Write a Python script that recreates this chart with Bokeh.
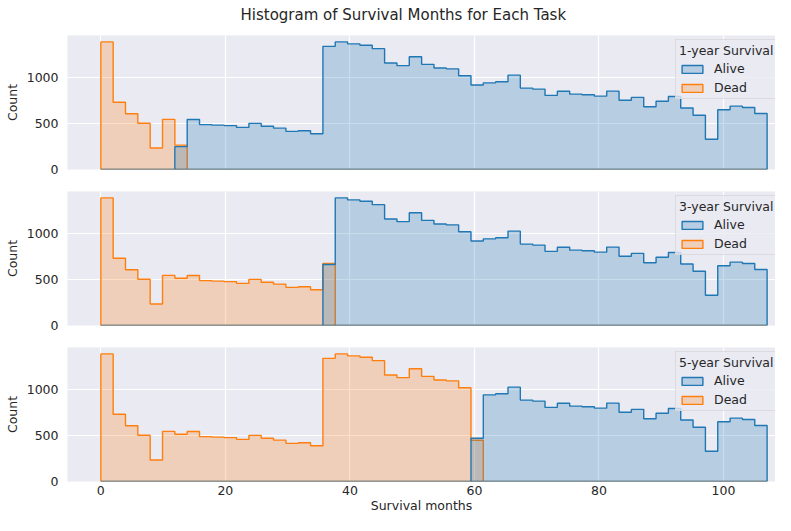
import numpy as np
from bokeh.plotting import figure
from bokeh.layouts import column
from bokeh.models import Range1d, Legend, LegendItem
from bokeh.core.properties import value
from bokeh.embed import file_html
from bokeh.resources import INLINE

# ---------------- data ----------------
chart_title = "Histogram of Survival Months for Each Task"
tasks = ["1-year Survival", "3-year Survival", "5-year Survival"]
hue_levels = ["Alive", "Dead"]
month_min = 0.0
month_max = 107.0
n_bins = 54
# total patients per bin (all tasks share the same survival months)
bin_counts = [1392, 734, 608, 505, 235, 547, 516, 546, 490, 484,
              479, 459, 503, 471, 451, 416, 423, 390, 1343, 1392,
              1370, 1356, 1318, 1162, 1133, 1230, 1147, 1107, 1098, 1022,
              922, 945, 957, 1029, 888, 877, 808, 853, 822, 815,
              800, 855, 756, 787, 684, 745, 797, 671, 592, 330,
              651, 691, 676, 611]
# bin containing the task threshold, and how many of it are "Dead"
split_bin = [6, 18, 30]
split_dead = [266, 678, 450]
x_ticks = [0, 20, 40, 60, 80, 100]
y_ticks = [0, 500, 1000]
x_label = "Survival months"
y_label = "Count"

# ---------------- style ----------------
COLORS = {"Alive": "#1f77b4", "Dead": "#ff7f0e"}
BG = "#EAEAF2"
TXT = "#262626"
FONT = "DejaVu Sans"
FS = "12.5px"

edges = np.linspace(month_min, month_max, n_bins + 1)
totals = np.array(bin_counts, dtype=float)
pad = 0.05 * (month_max - month_min)
ymax = totals.max() * 1.05

W = 775
LEFT = 67
FRAME_H = 134
TITLE_H = 35
frame_w = W - LEFT
px_per_unit = 6.227
x_end = -pad + frame_w / px_per_unit
LEG_W = 100
LEG_H = 58


def hue_counts(k):
    dead = totals.copy()
    dead[split_bin[k] + 1:] = 0
    dead[split_bin[k]] = split_dead[k]
    alive = totals - dead
    return {"Alive": alive, "Dead": dead}


def step_poly(counts):
    xs = np.repeat(edges, 2)
    ys = np.concatenate([[0.0], np.repeat(counts, 2), [0.0]])
    return xs, ys


def make_panel(k, top, bottom, show_x):
    p = figure(width=W, height=top + FRAME_H + bottom, output_backend="svg",
               toolbar_location=None,
               x_range=Range1d(-pad, x_end), y_range=Range1d(0, ymax),
               min_border_left=LEFT, min_border_right=0,
               min_border_top=top, min_border_bottom=bottom)
    p.background_fill_color = BG
    p.border_fill_color = "white"
    p.outline_line_color = None

    counts = hue_counts(k)
    rends = {}
    for hue in reversed(hue_levels):
        xs, ys = step_poly(counts[hue])
        rends[hue] = p.patch(xs, ys, fill_color=COLORS[hue], fill_alpha=0.25,
                             line_color=COLORS[hue], line_width=1.4)

    for ax in (p.xaxis, p.yaxis):
        ax.axis_line_color = None
        ax.major_tick_line_color = None
        ax.minor_tick_line_color = None
        ax.major_tick_out = 0
        ax.major_tick_in = 0
        ax.major_label_text_font = FONT
        ax.major_label_text_font_size = FS
        ax.major_label_text_color = TXT
        ax.axis_label_text_font = FONT
        ax.axis_label_text_font_size = FS
        ax.axis_label_text_font_style = "normal"
        ax.axis_label_text_color = TXT
    p.xaxis.ticker = x_ticks
    p.yaxis.ticker = y_ticks
    p.yaxis.axis_label = y_label
    p.yaxis.major_label_standoff = 9
    p.yaxis.axis_label_standoff = 4
    if show_x:
        p.xaxis.axis_label = x_label
        p.xaxis.major_label_standoff = 4
        p.xaxis.axis_label_standoff = 0
    else:
        p.xaxis.visible = False

    p.xgrid.grid_line_color = "white"
    p.ygrid.grid_line_color = "white"
    p.xgrid.grid_line_width = 1.2
    p.ygrid.grid_line_width = 1.2

    legend = Legend(items=[LegendItem(label=h, renderers=[rends[h]]) for h in hue_levels],
                    location=(frame_w - LEG_W, FRAME_H - 6 - LEG_H), title=tasks[k])
    legend.title_text_font = FONT
    legend.title_text_font_size = FS
    legend.title_text_font_style = "normal"
    legend.title_text_color = TXT
    legend.label_text_font = FONT
    legend.label_text_font_size = FS
    legend.label_text_color = TXT
    legend.background_fill_color = BG
    legend.background_fill_alpha = 0.8
    legend.border_line_color = "#CCCCCC"
    legend.border_line_width = 1
    legend.padding = 3
    legend.spacing = 4
    legend.margin = 0
    legend.glyph_width = 26
    legend.glyph_height = 10
    legend.label_height = 15
    legend.label_standoff = 9
    legend.title_standoff = 3
    p.add_layout(legend)
    return p


# title bar: a bare figure (no axes, no title panel); in a column its frame is
# aligned with the panels below, so its x range spans the same pixel columns
tbar = figure(width=W, height=TITLE_H, output_backend="svg", toolbar_location=None,
              title=None, x_axis_type=None, y_axis_type=None,
              x_range=Range1d(LEFT, W), y_range=Range1d(TITLE_H, 0),
              min_border_left=LEFT, min_border_right=0, min_border_top=0, min_border_bottom=0)
tbar.grid.visible = False
tbar.outline_line_color = None
tbar.background_fill_color = "white"
tbar.border_fill_color = "white"
tbar.text(x=[240], y=[14], text=[chart_title], text_font=value(FONT),
          text_font_size=value("15px"), text_color=TXT,
          text_baseline="alphabetic", text_align="left")

p1 = make_panel(0, 0, 11, False)
p2 = make_panel(1, 11, 11, False)
p3 = make_panel(2, 11, 34, True)

layout = column(tbar, p1, p2, p3, spacing=0)

open("out.html", "w").write(file_html(layout, INLINE))
